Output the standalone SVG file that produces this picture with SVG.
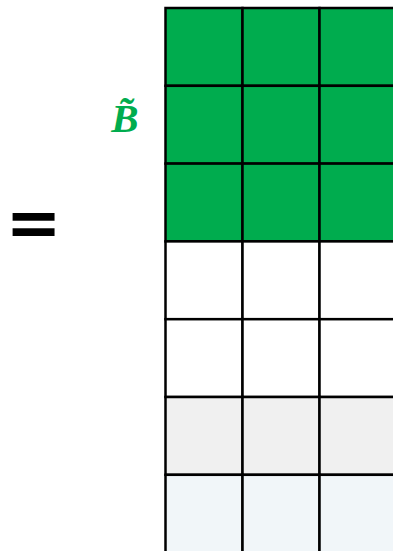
<svg xmlns="http://www.w3.org/2000/svg" width="393" height="551" viewBox="0 0 393 551">
<style>
.c{stroke:#000;stroke-width:2.5}
.g{fill:#00AC4E}
.w{fill:#FFFFFF}
.l{fill:#F0F0F0}
.b{fill:#F1F6F9}
</style>
<rect width="393" height="551" fill="#fff"/>
<g id="eq"><text x="33.5" y="246" font-family="DejaVu Sans, sans-serif" font-weight="bold" font-size="67" text-anchor="middle">=</text></g>
<g id="label"><text x="125" y="132" font-family="Liberation Serif, serif" font-style="italic" font-weight="bold" font-size="41" fill="#00AC4E" text-anchor="middle">B̃</text></g>
<g id="grid">
<rect class="c g" x="165.5" y="8" width="77" height="77.8"/>
<rect class="c g" x="242.5" y="8" width="77" height="77.8"/>
<rect class="c g" x="319.5" y="8" width="77" height="77.8"/>
<rect class="c g" x="165.5" y="85.8" width="77" height="77.8"/>
<rect class="c g" x="242.5" y="85.8" width="77" height="77.8"/>
<rect class="c g" x="319.5" y="85.8" width="77" height="77.8"/>
<rect class="c g" x="165.5" y="163.6" width="77" height="77.8"/>
<rect class="c g" x="242.5" y="163.6" width="77" height="77.8"/>
<rect class="c g" x="319.5" y="163.6" width="77" height="77.8"/>
<rect class="c w" x="165.5" y="241.4" width="77" height="77.8"/>
<rect class="c w" x="242.5" y="241.4" width="77" height="77.8"/>
<rect class="c w" x="319.5" y="241.4" width="77" height="77.8"/>
<rect class="c w" x="165.5" y="319.2" width="77" height="77.8"/>
<rect class="c w" x="242.5" y="319.2" width="77" height="77.8"/>
<rect class="c w" x="319.5" y="319.2" width="77" height="77.8"/>
<rect class="c l" x="165.5" y="397" width="77" height="77.8"/>
<rect class="c l" x="242.5" y="397" width="77" height="77.8"/>
<rect class="c l" x="319.5" y="397" width="77" height="77.8"/>
<rect class="c b" x="165.5" y="474.8" width="77" height="77.8"/>
<rect class="c b" x="242.5" y="474.8" width="77" height="77.8"/>
<rect class="c b" x="319.5" y="474.8" width="77" height="77.8"/>
</g>
</svg>
